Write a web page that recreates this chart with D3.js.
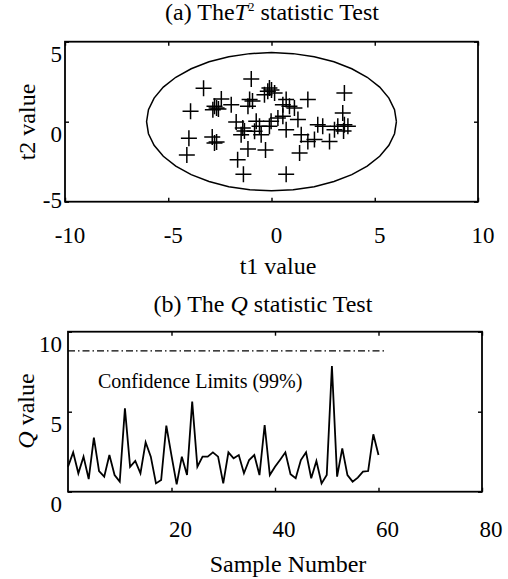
<!DOCTYPE html>
<html>
<head>
<meta charset="UTF-8">
<script src="https://d3js.org/d3.v7.min.js"></script>
<style>
body { margin: 0; background: #fff; }
text { font-family: "Liberation Serif", "Times New Roman", serif; fill: #000; }
</style>
</head>
<body>
<svg id="fig" width="508" height="579"></svg>
<script>
// (a) score plot: t1 / t2 of each sample
var t1 = [-3.29, -3.92, -2.43, -2.76, -2.84, -2.66, -1.95, -4.00, -4.10, -2.87,
          -2.76, -2.66, -0.98, -1.06, -1.14, -1.71, -1.39, -1.47, -1.31, -1.14,
          -1.64, -1.36, -0.29, -0.74, -0.58, -0.82, -0.50, -0.18, -0.10, 0.15,
          -0.34, 0.00, -0.02, -0.10, 0.31, 0.55, 0.71, 0.71, 0.55, 0.87,
          1.11, 1.76, 1.28, 1.44, 1.36, 0.71, 1.76, 2.08, 2.24, 2.48,
          2.81, 3.05, 3.21, 3.53, 3.70, 3.53, 3.45, 3.49, -2.57, -0.92];
var t2 = [2.09, 0.65, 1.42, 0.96, 0.75, 0.86, 1.06, -1.04, -2.08, -0.96,
          -1.33, -1.27, 2.67, 1.38, 0.96, -0.02, -0.39, -0.81, -0.58, -1.71,
          -2.38, -3.29, -1.77, 0.03, -0.29, -0.60, -0.81, 1.90, 2.11, 1.79,
          1.69, 1.98, 0.03, -0.29, 0.23, 0.34, -0.50, 1.38, 1.06, 0.96,
          0.86, 1.38, 0.13, -0.81, -1.96, -3.29, -1.23, -1.12, -0.19, -0.29,
          -1.23, -0.50, -0.29, -0.19, -0.29, 1.79, 0.54, -0.58, 0.79, 1.29];
// T2 control ellipse semi-axes
var ellA = 6.05, ellB = 4.32;

// (b) Q statistic per sample number (index = sample number)
var qValue = [1.56, 2.46, 1.15, 2.19, 0.79, 3.38, 1.29, 0.94, 2.29, 1.04,
              0.63, 5.21, 1.56, 1.92, 1.15, 3.09, 2.19, 0.52, 0.73, 4.13,
              2.25, 0.46, 2.19, 1.04, 5.63, 1.56, 2.19, 2.19, 2.46, 2.19,
              0.52, 2.46, 2.09, 2.29, 1.15, 1.98, 2.29, 1.04, 4.17, 1.04,
              1.56, 2.00, 2.46, 1.09, 0.84, 1.98, 2.46, 0.84, 1.92, 0.52,
              1.04, 7.86, 0.94, 2.71, 1.04, 0.63, 0.88, 1.25, 1.29, 3.59,
              2.29];
var qLimit = 8.8, qLimitEnd = 61.5;

var xTicksA = [-10, -5, 0, 5, 10], yTicksA = [-5, 0, 5];
var xTicksB = [20, 40, 60, 80], yTicksB = [0, 5, 10];

var svg = d3.select("#fig");
svg.append("rect").attr("width", 508).attr("height", 579).attr("fill", "#fff");

// box with inward ticks on all four sides
function frame(x, y, xt, yt) {
  var g = svg.append("g");
  var x0 = x.range()[0], x1 = x.range()[1], y0 = y.range()[0], y1 = y.range()[1];
  g.append("g").attr("transform", "translate(0," + y0 + ")")
    .call(d3.axisBottom(x).tickValues(xt).tickSize(-4).tickFormat(""));
  g.append("g").attr("transform", "translate(0," + y1 + ")")
    .call(d3.axisTop(x).tickValues(xt).tickSize(-4).tickFormat(""));
  g.append("g").attr("transform", "translate(" + x0 + ",0)")
    .call(d3.axisLeft(y).tickValues(yt).tickSize(-4).tickFormat(""));
  g.append("g").attr("transform", "translate(" + x1 + ",0)")
    .call(d3.axisRight(y).tickValues(yt).tickSize(-4).tickFormat(""));
  g.selectAll(".domain").remove();
  g.selectAll(".tick line").attr("stroke", "#000").attr("stroke-width", 1.4);
  g.append("rect")
    .attr("x", x0).attr("y", y1).attr("width", x1 - x0).attr("height", y0 - y1)
    .attr("fill", "none").attr("stroke", "#000").attr("stroke-width", 1.8);
}

// ---------- (a) ----------
var xa = d3.scaleLinear().domain([-10, 10]).range([65, 478]);
var ya = d3.scaleLinear().domain([-5, 5]).range([201.7, 41.7]);

var ell = d3.range(0, 361, 10).map(function(a) {
  var r = a * Math.PI / 180;
  return [ellA * Math.cos(r), ellB * Math.sin(r)];
});
svg.append("path")
  .attr("d", d3.line().x(function(d) { return xa(d[0]); }).y(function(d) { return ya(d[1]); })(ell))
  .attr("fill", "none").attr("stroke", "#000").attr("stroke-width", 1.5);

var pts = t1.map(function(v, i) { return [v, t2[i]]; });
var plus = svg.append("g").attr("stroke", "#000").attr("stroke-width", 1.5);
plus.selectAll("path").data(pts).enter().append("path")
  .attr("d", function(d) {
    var cx = xa(d[0]), cy = ya(d[1]);
    return "M" + (cx - 8) + "," + cy + "H" + (cx + 8) + "M" + cx + "," + (cy - 8) + "V" + (cy + 8);
  });

frame(xa, ya, xTicksA, yTicksA);

svg.selectAll(".xla").data(xTicksA).enter().append("text")
  .attr("x", function(d) { return xa(d) + 5; }).attr("y", 243)
  .attr("text-anchor", "middle").style("font-size", "23px")
  .text(function(d) { return d; });
svg.selectAll(".yla").data(yTicksA).enter().append("text")
  .attr("x", 62).attr("y", function(d) { return Math.min(ya(d) + 20, ya.range()[0] + 6.5); })
  .attr("text-anchor", "end").style("font-size", "23px")
  .text(function(d) { return d; });

var ta = svg.append("text").attr("x", 272).attr("y", 20)
  .attr("text-anchor", "middle").style("font-size", "24px");
ta.append("tspan").text("(a) The");
ta.append("tspan").style("font-style", "italic").text("T");
ta.append("tspan").attr("dy", -9).style("font-size", "13px").text("2");
ta.append("tspan").attr("dy", 9).text(" statistic Test");

svg.append("text").attr("x", 278).attr("y", 274)
  .attr("text-anchor", "middle").style("font-size", "24px").text("t1 value");
svg.append("text").attr("transform", "translate(35,122) rotate(-90)")
  .attr("text-anchor", "middle").style("font-size", "24px").text("t2 value");

// ---------- (b) ----------
var xb = d3.scaleLinear().domain([0, 80]).range([68, 482]);
var yb = d3.scaleLinear().domain([0, 10]).range([491.7, 331.7]);

svg.append("path")
  .attr("d", d3.line().x(function(d) { return xb(d[0]); }).y(function(d) { return yb(d[1]); })([[0, qLimit], [qLimitEnd, qLimit]]))
  .attr("fill", "none").attr("stroke", "#000").attr("stroke-width", 1.4)
  .attr("stroke-dasharray", "7,3,1.5,3");

svg.append("path")
  .attr("d", d3.line().x(function(d, i) { return xb(i); }).y(function(d) { return yb(d); })(qValue))
  .attr("fill", "none").attr("stroke", "#000").attr("stroke-width", 1.8)
  .attr("stroke-linejoin", "miter");

frame(xb, yb, xTicksB, yTicksB);

svg.append("text").attr("x", xb(5.8)).attr("y", yb(6.48))
  .style("font-size", "20px").text("Confidence Limits (99%)");

svg.selectAll(".xlb").data(xTicksB).enter().append("text")
  .attr("x", function(d) { return xb(d) + 9; }).attr("y", 537)
  .attr("text-anchor", "middle").style("font-size", "23px")
  .text(function(d) { return d; });
svg.selectAll(".ylb").data(yTicksB).enter().append("text")
  .attr("x", 62).attr("y", function(d) { return yb(d) + 20.5; })
  .attr("text-anchor", "end").style("font-size", "23px")
  .text(function(d) { return d; });

var tb = svg.append("text").attr("x", 263).attr("y", 312)
  .attr("text-anchor", "middle").style("font-size", "24px");
tb.append("tspan").text("(b) The ");
tb.append("tspan").style("font-style", "italic").text("Q");
tb.append("tspan").text(" statistic Test");

svg.append("text").attr("x", 288).attr("y", 572)
  .attr("text-anchor", "middle").style("font-size", "24px").text("Sample Number");
var ql = svg.append("text").attr("transform", "translate(34,411) rotate(-90)")
  .attr("text-anchor", "middle").style("font-size", "24px");
ql.append("tspan").style("font-style", "italic").text("Q");
ql.append("tspan").text(" value");
</script>
</body>
</html>
